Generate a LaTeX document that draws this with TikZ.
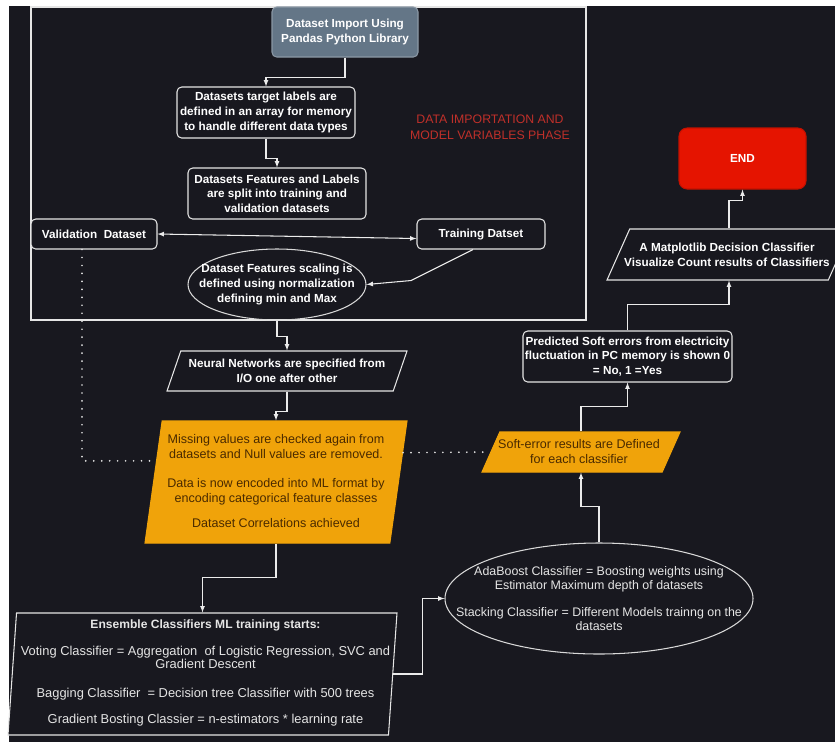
\documentclass[tikz,border=0pt]{standalone}
\usepackage{fontspec}
\setmainfont{Liberation Sans}
\usetikzlibrary{shapes.geometric}
\newlength{\unitpx}
\setlength{\unitpx}{0.03cm}
\newcommand{\flowfont}{\fontsize{10}{12.5}\selectfont}
\newcommand{\notefont}{\fontsize{10.7}{12.8}\selectfont}
\definecolor{bgdark}{HTML}{18181F}
\definecolor{slate}{HTML}{647687}
\definecolor{amber}{HTML}{F0A30A}
\definecolor{ambertext}{HTML}{4A2A00}
\definecolor{endred}{HTML}{E51400}
\definecolor{phasered}{HTML}{C0302A}

\begin{document}
\begin{tikzpicture}[x=\unitpx,y=-\unitpx,
   >=latex,
   every node/.style={align=center},
   box/.style={draw=white!90!black,line width=0.9pt,rounded corners=4pt,fill=bgdark,text=white,font=\flowfont\bfseries,inner sep=1pt},
   startbox/.style={box,fill=slate,draw=slate!75!white},
   endbox/.style={box,fill=endred,draw=endred!85!black,rounded corners=7pt},
   para/.style={trapezium,trapezium stretches body,draw=white!90!black,line width=0.9pt,inner xsep=0pt,fill=bgdark},
   orangepara/.style={para,fill=amber,draw=amber},
   oval/.style={ellipse,draw=white!85!black,line width=0.9pt,inner sep=0pt},
   txt/.style={text=white,font=\flowfont\bfseries,inner sep=0pt},
   plaintxt/.style={text=white!90!black,font=\notefont,inner sep=0pt},
   ambertxt/.style={text=ambertext,font=\notefont,inner sep=0pt},
   phasetxt/.style={text=phasered,font=\fontsize{10.5}{14}\selectfont,inner sep=0pt},
   flow/.style={->,line width=0.9pt,white!92!black},
   link/.style={line width=1.6pt,white!90!black,line cap=round,dash pattern=on 0pt off 6.8pt}]
\useasboundingbox (0,0) rectangle (835,742);
\clip (0,0) rectangle (835,742);
\fill[white] (0,0) rectangle (835,742);
\fill[bgdark] (9,6) rectangle (835,742);
\draw[white!90!black,line width=0.9pt] (31,7) rectangle (586,320);
\node[phasetxt] (phase) at (490,127) {DATA IMPORTATION AND\\MODEL VARIABLES PHASE};

\node[startbox,minimum width=146\unitpx,minimum height=50\unitpx] (import) at (345,32) {Dataset Import Using\\Pandas Python Library};
\node[box,minimum width=178\unitpx,minimum height=51\unitpx] (labels) at (266,112.5) {Datasets target labels are\\defined in an array for memory\\to handle different data types};
\node[box,minimum width=178\unitpx,minimum height=51\unitpx] (split) at (277,193.5) {Datasets Features and Labels\\are split into training and\\validation datasets};
\node[box,minimum width=126\unitpx,minimum height=30\unitpx] (valid) at (94,234) {Validation\ \ Dataset};
\node[box,minimum width=128\unitpx,minimum height=30\unitpx] (train) at (481,234) {Training Datset};
\node[oval,minimum width=178\unitpx,minimum height=71\unitpx] (scaling) at (277,284.5) {};
\node[txt] (scalingtxt) at (scaling) {Dataset Features scaling is\\defined using normalization\\defining min and Max};
\node[para,trapezium left angle=71,trapezium right angle=109,minimum width=240\unitpx,inner ysep=20\unitpx] (neural) at (287,371) {};
\node[txt] (neuraltxt) at (neural) {Neural Networks are specified from\\I/O one after other};
\node[orangepara,trapezium left angle=82,trapezium right angle=98,minimum width=262\unitpx,inner ysep=61\unitpx] (missing) at (276,482) {};
\node[ambertxt] (missingtxt) at ([yshift=1\unitpx]missing.center) {Missing values are checked again from\\datasets and Null values are removed.\\[12.2pt]Data is now encoded into ML format by\\encoding categorical feature classes\\[9.1pt]Dataset Correlations achieved};
\node[para,trapezium left angle=86,trapezium right angle=94,minimum width=389\unitpx,inner ysep=61\unitpx] (ensemble) at (202.5,674) {};
\node[plaintxt,font=\fontsize{11}{11.4}\selectfont] (ensembletxt) at ([xshift=3\unitpx,yshift=1\unitpx]ensemble.center) {{\fontsize{10.3}{11.4}\selectfont\bfseries Ensemble Classifiers ML training starts:}\\[11.9pt]Voting Classifier = Aggregation\ \ of Logistic Regression, SVC and\\Gradient Descent\\[13.1pt]Bagging Classifier\ \ = Decision tree Classifier with 500 trees\\[11.1pt]Gradient Bosting Classier = n-estimators * learning rate};
\node[oval,minimum width=308\unitpx,minimum height=111\unitpx] (adaboost) at (599,598.5) {};
\node[plaintxt,font=\fontsize{10.6}{12}\selectfont] (adaboosttxt) at (adaboost) {AdaBoost Classifier = Boosting weights using\\Estimator Maximum depth of datasets\\[11.3pt]Stacking Classifier = Different Models trainng on the\\datasets};
\node[orangepara,trapezium left angle=66,trapezium right angle=114,minimum width=198\unitpx,inner ysep=20\unitpx] (softerr) at (581,452) {};
\node[ambertxt] (softerrtxt) at ([xshift=-2\unitpx]softerr.center) {Soft-error results are Defined\\for each classifier};
\node[box,minimum width=209\unitpx,minimum height=51\unitpx] (predicted) at (627.5,356.5) {Predicted Soft errors from electricity\\fluctuation in PC memory is shown 0\\= No, 1 =Yes};
\node[para,trapezium left angle=66,trapezium right angle=114,minimum width=244\unitpx,inner ysep=25.5\unitpx] (matplot) at (729,254.5) {};
\node[txt] (matplottxt) at ([xshift=-2\unitpx]matplot.center) {A Matplotlib Decision Classifier\\Visualize Count results of Classifiers};
\node[endbox,minimum width=127\unitpx,minimum height=61\unitpx] (finish) at (742.5,158.5) {END};

\draw[flow] (import.south) -- ++(0,20) -| (labels.north);
\draw[flow] (labels.south) -- ++(0,20) -| (split.north);
\draw[flow,<->] (valid.east) -- (train.184);
\draw[flow] ([xshift=-8\unitpx]train.south) -- ++(-62,31) -- (scaling.east);
\draw[flow] (scaling.south) -- ++(0,16) -| (neural.north);
\draw[flow] (neural.south) -- ++(0,20) -| (missing.north);
\draw[flow] (missing.south) -- ++(0,34) -| (ensemble.north);
\draw[flow] (ensemble.east) -- ++(29,0) |- (adaboost.west);
\draw[flow] (adaboost.north) -- ++(0,-36) -| (softerr.south);
\draw[flow] (softerr.north) -- ++(0,-25) -| (predicted.south);
\draw[flow] (predicted.north) -- ++(0,-26) -| (matplot.south);
\draw[flow] (matplot.north) -- ++(0,-28) -| (finish.south);
\draw[link] ([xshift=-12\unitpx]valid.south) |- (missing.170);
\draw[link] (missing.13) -- (softerr.west);
\end{tikzpicture}
\end{document}
